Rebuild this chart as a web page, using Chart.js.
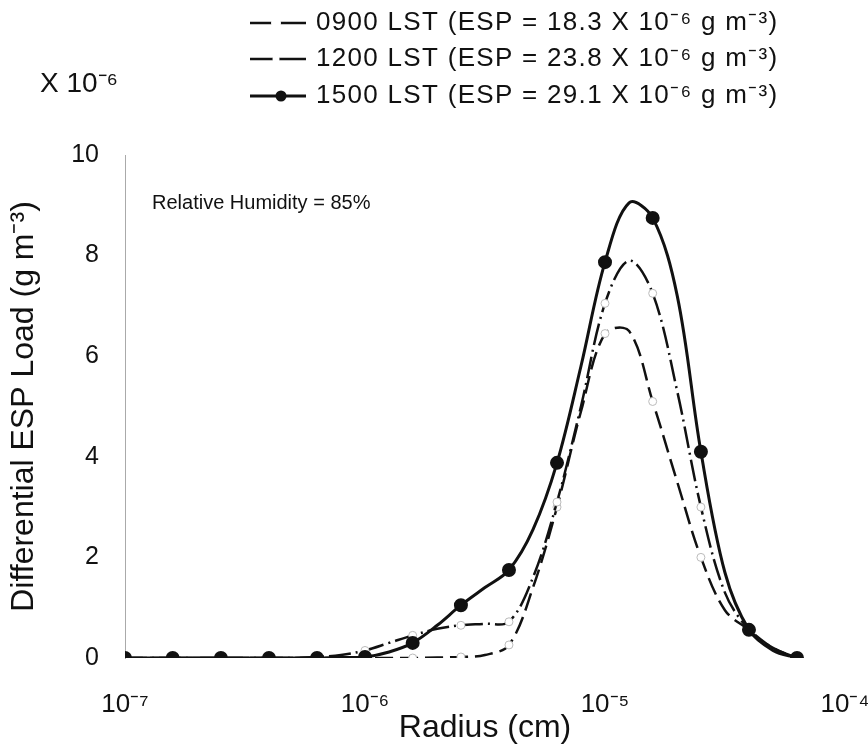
<!DOCTYPE html>
<html>
<head>
<meta charset="utf-8">
<script src="https://cdn.jsdelivr.net/npm/chart.js@4.4.1/dist/chart.umd.min.js"></script>
<style>
html, body { margin: 0; padding: 0; background: #fff; }
#box { width: 868px; height: 751px; }
</style>
</head>
<body>
<div id="box"><canvas id="graficoEsp" width="868" height="751"></canvas></div>
<script>
// radius (cm), read every 0.1 decade; the marked points are every 0.2 decade
var raio = [1e-7, 1.26e-7, 1.58e-7, 2e-7, 2.51e-7, 3.16e-7, 3.98e-7, 5.01e-7, 6.31e-7,
    7.94e-7, 1e-6, 1.26e-6, 1.58e-6, 2e-6, 2.51e-6, 3.16e-6, 3.98e-6, 5.01e-6,
    6.31e-6, 7.94e-6, 1e-5, 1.26e-5, 1.58e-5, 2e-5, 2.51e-5, 3.16e-5, 3.98e-5,
    5.01e-5, 6.31e-5];
var carga1500 = [0, 0, 0, 0, 0, 0, 0, 0, 0, 0.01, 0.02, 0.12, 0.3, 0.65, 1.05, 1.4,
    1.75, 2.55, 3.88, 5.8, 7.87, 9.05, 8.75, 7.2, 4.1, 1.7, 0.56, 0.15, 0];
var carga1200 = [0, 0, 0, 0, 0, 0, 0, 0, 0.02, 0.06, 0.15, 0.3, 0.45, 0.58, 0.65,
    0.68, 0.72, 1.6, 3.1, 5.0, 7.05, 7.9, 7.25, 5.3, 3.0, 1.3, 0.56, 0.2, 0];
var carga0900 = [0, 0, 0, 0, 0, 0, 0, 0, 0, 0, 0, 0, 0, 0.01, 0.02, 0.06, 0.26,
    1.4, 3.0, 4.9, 6.45, 6.5, 5.1, 3.5, 2.0, 0.95, 0.56, 0.2, 0];

var ticksRaio = [1e-7, 1e-6, 1e-5, 1e-4];
var rotulosRaio = ['10\u207B\u2077', '10\u207B\u2076', '10\u207B\u2075', '10\u207B\u2074'];
var legendas = [
    '0900 LST (ESP = 18.3 X 10\u207B\u2076 g m\u207B\u00B3)',
    '1200 LST (ESP = 23.8 X 10\u207B\u2076 g m\u207B\u00B3)',
    '1500 LST (ESP = 29.1 X 10\u207B\u2076 g m\u207B\u00B3)'
];

var fonte = '"Liberation Sans", Arial, Helvetica, sans-serif';
var tinta = '#111';

function pares(xs, ys) {
    return xs.map(function (x, i) {
        return { x: x, y: ys[i] };
    });
}

function marcaPar(raioMarca) {
    return function (ctx) {
        return ctx.dataIndex % 2 === 0 ? raioMarca : 0;
    };
}

// legend block, exponent note and the humidity note
var textosExtras = {
    id: 'textosExtras',
    afterDraw: function (chart) {
        var c = chart.ctx;
        var linhas = [23, 59, 96];
        c.save();
        c.fillStyle = tinta;
        c.textBaseline = 'middle';
        c.textAlign = 'left';
        c.font = '28px ' + fonte;
        c.fillText('X 10\u207B\u2076', 40, 84);

        linhas.forEach(function (y, i) {
            c.strokeStyle = tinta;
            c.lineWidth = i === 2 ? 3 : 2.5;
            c.beginPath();
            c.moveTo(250, y);
            c.lineTo(306, y);
            c.stroke();
            c.beginPath();
            c.arc(i === 2 ? 281 : 276, y, [5, 3.5, 5.5][i], 0, Math.PI * 2);
            c.fillStyle = i === 2 ? tinta : '#fff';
            c.fill();
            c.fillStyle = tinta;
            c.font = '26px ' + fonte;
            c.letterSpacing = '1.3px';
            c.fillText(legendas[i], 316, y);
            c.letterSpacing = '0px';
        });

        c.font = '20px ' + fonte;
        c.fillText('Relative Humidity = 85%', 152, 203);
        c.restore();
    }
};

var grafico = new Chart(document.getElementById('graficoEsp').getContext('2d'), {
    type: 'line',
    data: {
        datasets: [{
            label: legendas[2],
            data: pares(raio, carga1500),
            borderColor: tinta,
            borderWidth: 3,
            pointRadius: marcaPar(5.5),
            pointBackgroundColor: tinta,
            pointBorderColor: tinta,
            tension: 0.35,
        },
        {
            label: legendas[1],
            data: pares(raio, carga1200),
            borderColor: tinta,
            borderWidth: 2.5,
            borderDash: [22, 5, 2, 5],
            pointRadius: marcaPar(4),
            pointBackgroundColor: '#fff',
            pointBorderColor: '#bbb',
            pointBorderWidth: 1,
            tension: 0.35,
        },
        {
            label: legendas[0],
            data: pares(raio, carga0900),
            borderColor: tinta,
            borderWidth: 2.5,
            borderDash: [18, 7],
            pointRadius: marcaPar(4),
            pointBackgroundColor: '#fff',
            pointBorderColor: '#bbb',
            pointBorderWidth: 1,
            tension: 0.35,
        }],
    },
    options: {
        responsive: false,
        animation: false,
        layout: { padding: { left: 0, top: 155, right: 23, bottom: 0 } },
        plugins: {
            legend: { display: false },
            tooltip: { enabled: false },
        },
        scales: {
            x: {
                type: 'logarithmic',
                min: 1e-7,
                max: 1e-4,
                grid: { display: false, drawTicks: false },
                border: { display: false },
                afterBuildTicks: function (s) {
                    s.ticks = ticksRaio.map(function (v) { return { value: v }; });
                },
                afterFit: function (s) {
                    s.height = 93;
                    s.paddingLeft = 0;
                    s.paddingRight = 0;
                },
                ticks: {
                    autoSkip: false,
                    maxRotation: 0,
                    padding: 31,
                    color: tinta,
                    font: { family: fonte, size: 26 },
                    callback: function (v, i) { return rotulosRaio[i]; },
                },
                title: {
                    display: true,
                    text: 'Radius (cm)',
                    color: tinta,
                    font: { family: fonte, size: 32 },
                    padding: { top: 0, bottom: 4 },
                },
            },
            y: {
                min: 0,
                max: 10,
                grid: { display: false, drawTicks: false },
                border: { display: true, color: '#aaa', width: 1, dash: [2, 4] },
                afterFit: function (s) {
                    s.width = 125;
                    s.paddingTop = 0;
                    s.paddingBottom = 0;
                },
                ticks: {
                    stepSize: 2,
                    padding: 26,
                    color: tinta,
                    font: { family: fonte, size: 25 },
                },
                title: {
                    display: true,
                    text: 'Differential ESP Load (g m\u207B\u00B3)',
                    color: tinta,
                    font: { family: fonte, size: 32 },
                    padding: { top: 5, bottom: 0 },
                },
            },
        },
    },
    plugins: [textosExtras],
});
</script>
</body>
</html>
